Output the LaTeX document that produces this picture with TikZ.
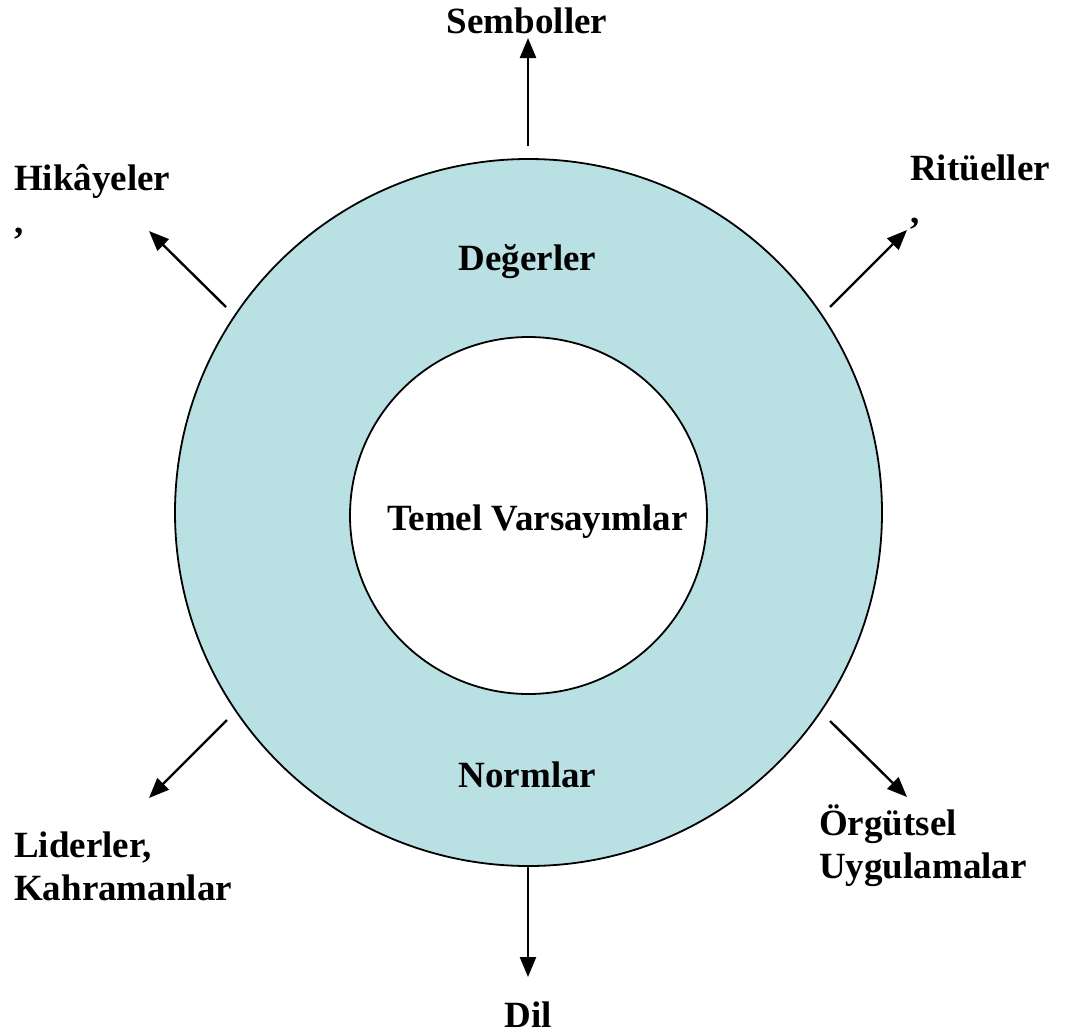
\documentclass[tikz,border=0pt]{standalone}
\usepackage{fontspec}
\setmainfont{Liberation Serif}
\usetikzlibrary{arrows.meta}
\definecolor{ringblue}{RGB}{185,224,227}
\begin{document}
\begin{tikzpicture}[x=1pt,y=-1pt,
  lbl/.style={inner sep=0pt, font=\fontsize{37}{43}\selectfont\bfseries},
  outarrow/.style={line width=2.4pt, -{Triangle[length=20pt,width=16pt]}},
  ring/.style={circle, draw, line width=1.8pt, inner sep=0pt}]
\useasboundingbox (0,0) rectangle (1069,1034);

% culture rings
\node[ring, fill=ringblue, minimum size=707pt] (outer) at (528.5,512.5) {};
\node[ring, fill=white, minimum size=357pt] (inner) at (528.5,515.5) {};

% layer labels
\node[lbl, anchor=base] (deg) at (527.5,270) {Değerler};
\node[lbl, anchor=base] (tem) at (537.5,530) {Temel Varsayımlar};
\node[lbl, anchor=base] (nor) at (527.5,787) {Normlar};

% artefact labels (two-line labels are placed by their last baseline)
\node[lbl, anchor=base] (sem) at (527,33) {Semboller};
\node[lbl, anchor=base west, align=left] (hik) at (14,233) {Hikâyeler\\,};
\node[lbl, anchor=base west, align=left] (rit) at (910,223) {Ritüeller\\,};
\node[lbl, anchor=base west, align=left] (lid) at (14,900) {Liderler,\\Kahramanlar};
\node[lbl, anchor=base west, align=left] (org) at (819,878) {Örgütsel\\Uygulamalar};
\node[lbl, anchor=base] (dil) at (528,1027) {Dil};

% arrow end points
\coordinate (semA) at (528,146);  \coordinate (semB) at (528,38);
\coordinate (hikA) at (226,307);  \coordinate (hikB) at (149,231);
\coordinate (ritA) at (830,307);  \coordinate (ritB) at (907,230);
\coordinate (lidA) at (227,720);  \coordinate (lidB) at (149,798);
\coordinate (orgA) at (830,721);  \coordinate (orgB) at (907,797);
\coordinate (dilA) at (528,867);  \coordinate (dilB) at (528,977);

\draw[outarrow] (semA) -- (semB);
\draw[outarrow] (hikA) -- (hikB);
\draw[outarrow] (ritA) -- (ritB);
\draw[outarrow] (lidA) -- (lidB);
\draw[outarrow] (orgA) -- (orgB);
\draw[outarrow] (dilA) -- (dilB);
\end{tikzpicture}
\end{document}
